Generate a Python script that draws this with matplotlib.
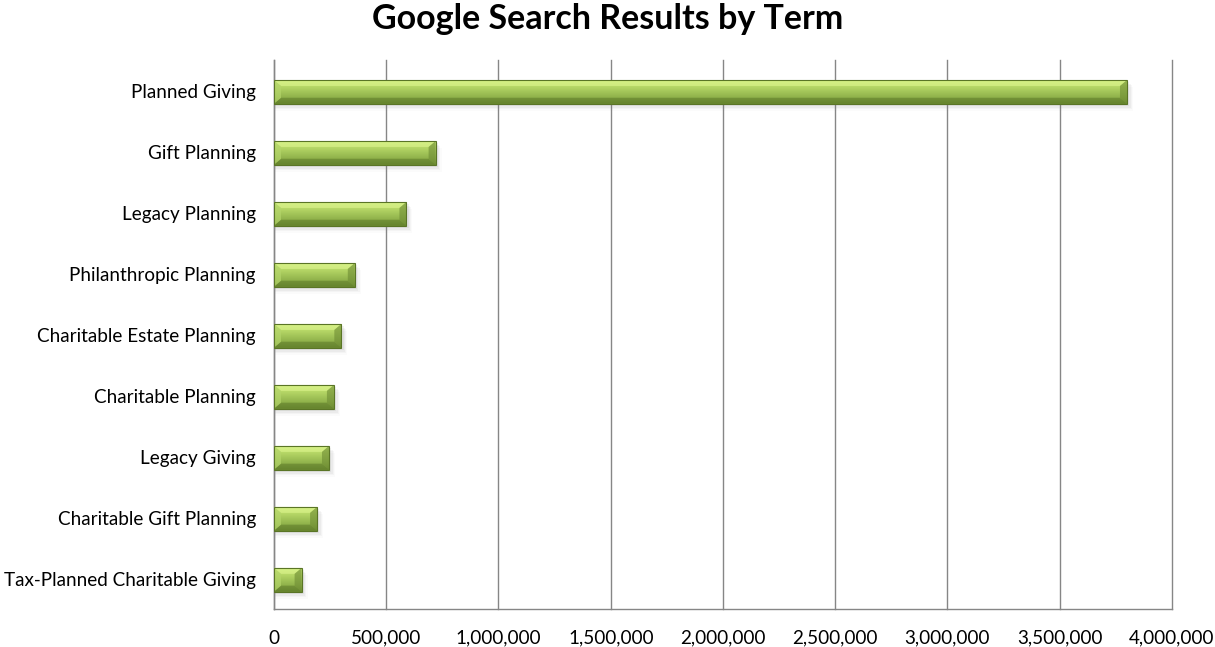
import matplotlib
matplotlib.use("Agg")
import matplotlib.pyplot as plt
import numpy as np
from matplotlib.patches import Polygon, Rectangle
from matplotlib.colors import LinearSegmentedColormap

terms = ["Planned Giving", "Gift Planning", "Legacy Planning", "Philanthropic Planning",
         "Charitable Estate Planning", "Charitable Planning", "Legacy Giving",
         "Charitable Gift Planning", "Tax-Planned Charitable Giving"]
results = [3800000, 720000, 590000, 360000, 300000, 267000, 245000, 192000, 123000]
xticks = [0, 500000, 1000000, 1500000, 2000000, 2500000, 3000000, 3500000, 4000000]

plt.rcParams['font.family'] = ['Lato', 'DejaVu Sans']

fig = plt.figure(figsize=(12.15, 6.47), dpi=100)
ax = fig.add_axes([0.2255, 0.0587, 0.739, 0.8483])
n = len(terms)
ypos = np.arange(n)[::-1]
ax.set_xlim(0, 4000000)
ax.set_ylim(-0.5, n - 0.5)

bars = ax.barh(ypos - 0.02, results, height=0.39, color='#9BBB59', zorder=3, linewidth=0)

# pixel -> data conversions
fig.canvas.draw()
inv = ax.transData.inverted()
p0 = inv.transform((0, 0))
p1 = inv.transform((7, 6))
bx = p1[0] - p0[0]
by = p1[1] - p0[1]
s1 = inv.transform((4, -5))
sx, sy = s1[0] - p0[0], s1[1] - p0[1]

cmap = LinearSegmentedColormap.from_list('g', ['#6F8E33', '#8DAF49', '#A2C458', '#B8D968', '#CDEB7C'])
for b in bars:
    x0, y0, w, h = b.get_x(), b.get_y(), b.get_width(), b.get_height()
    # shadow
    for k, a in enumerate([0.10, 0.07, 0.05, 0.03]):
        ax.add_patch(Rectangle((x0 + sx * 0.2, y0 + sy * (0.5 + 0.3 * k)), w + sx * (0.4 + k * 0.3), h,
                               facecolor='#808080', alpha=a, linewidth=0, zorder=2))
    # gradient face
    grad = np.linspace(0, 1, 64).reshape(-1, 1)
    im = ax.imshow(grad, aspect='auto', cmap=cmap, extent=(x0, x0 + w, y0, y0 + h),
                   origin='lower', zorder=4, interpolation='bicubic')
    im.set_clip_path(b)
    ex = min(bx, w / 2)
    top = Polygon([(x0, y0 + h), (x0 + w, y0 + h), (x0 + w - ex, y0 + h - by), (x0 + ex, y0 + h - by)],
                  closed=True, facecolor='#DDF58E', edgecolor='none', alpha=0.6, zorder=5)
    bot = Polygon([(x0, y0), (x0 + w, y0), (x0 + w - ex, y0 + by), (x0 + ex, y0 + by)],
                  closed=True, facecolor='#5E7B2A', edgecolor='none', alpha=0.55, zorder=5)
    left = Polygon([(x0, y0), (x0, y0 + h), (x0 + ex, y0 + h - by), (x0 + ex, y0 + by)],
                   closed=True, facecolor='#B4D56A', edgecolor='none', alpha=0.7, zorder=5)
    right = Polygon([(x0 + w, y0), (x0 + w, y0 + h), (x0 + w - ex, y0 + h - by), (x0 + w - ex, y0 + by)],
                    closed=True, facecolor='#6D8B33', edgecolor='none', alpha=0.6, zorder=5)
    for p in (top, bot, left, right):
        ax.add_patch(p)
    ax.add_patch(Rectangle((x0, y0), w, h, facecolor='none', edgecolor='#5A7526', linewidth=0.8, zorder=6))

ax.set_yticks(ypos)
ax.set_yticklabels(terms, fontsize=13.6)
ax.set_xticks(xticks)
ax.set_xticklabels([f"{v:,}" for v in xticks], fontsize=13.6)
ax.tick_params(axis='both', length=0, colors='black')
ax.tick_params(axis='y', pad=13)
ax.tick_params(axis='x', pad=15)
ax.grid(axis='x', color='#868686', linewidth=1, zorder=0)
for gl in ax.get_xgridlines():
    gl.set_clip_on(False)
ax.set_axisbelow(True)
for sname in ['top', 'right']:
    ax.spines[sname].set_visible(False)
for sname in ['left', 'bottom']:
    ax.spines[sname].set_color('#868686')
    ax.spines[sname].set_linewidth(1)

fig.text(0.5, 0.996, "Google Search Results by Term", ha='center', va='top',
         fontsize=24.5, fontweight='bold')

fig.savefig("out.png", dpi=100)
